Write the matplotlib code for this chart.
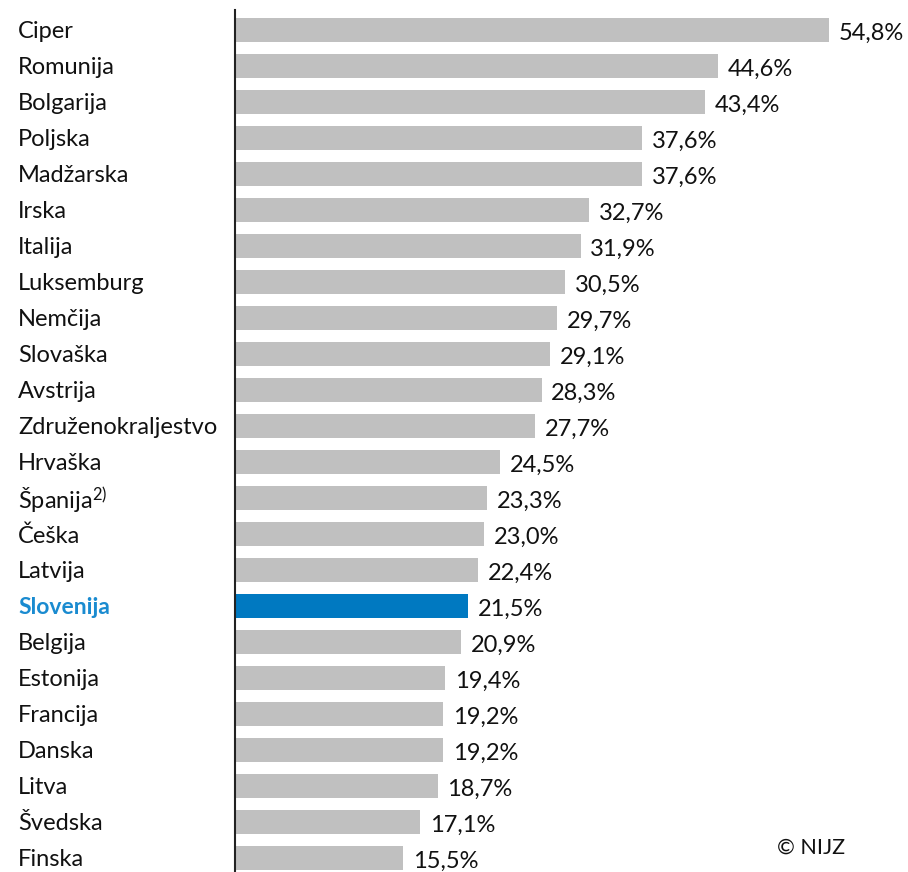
import matplotlib
matplotlib.use("Agg")
import matplotlib.pyplot as plt
import numpy as np

countries = ["Ciper", "Romunija", "Bolgarija", "Poljska", "Madžarska", "Irska",
             "Italija", "Luksemburg", "Nemčija", "Slovaška", "Avstrija",
             "Združenokraljestvo", "Hrvaška", "Španija$^{2)}$", "Češka", "Latvija",
             "Slovenija", "Belgija", "Estonija", "Francija", "Danska", "Litva",
             "Švedska", "Finska"]
values = [54.8, 44.6, 43.4, 37.6, 37.6, 32.7, 31.9, 30.5, 29.7, 29.1, 28.3,
          27.7, 24.5, 23.3, 23.0, 22.4, 21.5, 20.9, 19.4, 19.2, 19.2, 18.7,
          17.1, 15.5]
highlight = "Slovenija"

gray = "#c0c0c0"
blue = "#0079c1"
label_blue = "#1a8bd0"

plt.rcParams["font.family"] = ["Lato", "DejaVu Sans"]
plt.rcParams["mathtext.fontset"] = "custom"
plt.rcParams["mathtext.rm"] = "Lato"
plt.rcParams["mathtext.default"] = "rm"

W, H = 908, 872
fig = plt.figure(figsize=(W / 100, H / 100), dpi=100)
ax = fig.add_axes([235 / W, 0, 650 / W, 862 / H])

y = np.arange(len(countries))
colors = [blue if c == highlight else gray for c in countries]
ax.barh(y, values, height=0.67, color=colors, left=0)

for yi, v in zip(y, values):
    ax.text(v + 0.9, yi + 0.08, f"{v:.1f}%".replace(".", ","), va="center",
            ha="left", fontsize=17, color="#111111")

ax.set_xlim(0, 60)
ax.set_ylim(23 + 14 / 36, -20 / 36)
ax.set_xticks([])
ax.set_yticks(y)
ax.set_yticklabels(countries, ha="left", fontsize=17)
ax.tick_params(axis="y", length=0, pad=(235 - 18) * 0.72)
for lbl, c in zip(ax.get_yticklabels(), countries):
    if c == highlight:
        lbl.set_color(label_blue)
        lbl.set_fontweight("bold")
        lbl.set_fontsize(16.5)
    else:
        lbl.set_color("#111111")

for s in ["top", "right", "bottom"]:
    ax.spines[s].set_visible(False)
ax.spines["left"].set_color("#222222")
ax.spines["left"].set_linewidth(1.5)

fig.text(777 / W, 1 - 848 / H, "© NIJZ", fontsize=15.5, va="center", ha="left",
         color="#111111")

fig.savefig("out.png", dpi=100)
